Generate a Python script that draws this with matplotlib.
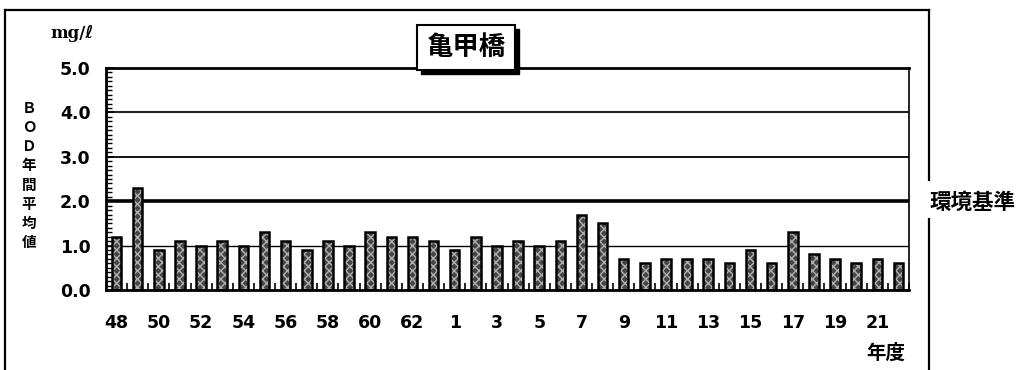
import numpy as np
import matplotlib.pyplot as plt
from matplotlib.patches import Rectangle
from matplotlib.lines import Line2D
from matplotlib.ticker import MultipleLocator, FixedLocator

plt.rcParams['font.family'] = ['DejaVu Sans', 'Noto Sans CJK JP']

# fiscal years: Showa 48-63, Heisei 1-22
years = [str(y) for y in range(48, 64)] + [str(y) for y in range(1, 23)]
bod = [1.2, 2.3, 0.9, 1.1, 1.0, 1.1, 1.0, 1.3, 1.1, 0.9, 1.1, 1.0, 1.3, 1.2, 1.2, 1.1,
       0.9, 1.2, 1.0, 1.1, 1.0, 1.1, 1.7, 1.5, 0.7, 0.6, 0.7, 0.7, 0.7, 0.6, 0.9, 0.6,
       1.3, 0.8, 0.7, 0.6, 0.7, 0.6]
standard = 2.0
y_ticks = [0.0, 1.0, 2.0, 3.0, 4.0, 5.0]

W, H = 1029, 370
fig = plt.figure(figsize=(W / 100, H / 100), dpi=100)

def fx(px):
    return px / W

def fy(py):
    return 1 - py / H

ax = fig.add_axes([fx(106), fy(290), fx(909) - fx(106), fy(68) - fy(290)])
x = np.arange(len(years))

# gridlines (the 2.0 line is the environmental standard)
ax.axhline(1.0, color='black', lw=1.0, zorder=1)
ax.axhline(standard, color='black', lw=2.6, zorder=1)
ax.axhline(3.0, color='black', lw=1.3, zorder=1)
ax.axhline(4.0, color='#222222', lw=1.5, zorder=1)

# stippled bars
ax.bar(x, bod, width=0.45, color='#454545', edgecolor='#b0b0b0', hatch='xxxx', lw=0, zorder=2)
ax.bar(x, bod, width=0.45, fill=False, edgecolor='black', lw=1.8, zorder=3)

ax.set_xlim(-0.5, len(years) - 0.5)
ax.set_ylim(0, 5.0)
ax.set_yticks(y_ticks)
ax.set_yticklabels([f'{v:.1f}' for v in y_ticks], fontsize=12.5, fontweight='bold')
ax.yaxis.set_minor_locator(MultipleLocator(0.1))
ax.tick_params(axis='y', which='major', direction='in', length=6, width=1.2, pad=11)
ax.tick_params(axis='y', which='minor', direction='in', length=4, width=1.0)

ax.set_xticks(x[::2])
ax.set_xticklabels(years[::2], fontsize=12.5, fontweight='bold')
ax.xaxis.set_minor_locator(FixedLocator(np.arange(len(years) + 1) - 0.5))
ax.tick_params(axis='x', which='major', length=0, pad=17)
ax.tick_params(axis='x', which='minor', direction='in', length=5, width=1.2)

for side, lw in [('left', 2.0), ('bottom', 2.0), ('top', 2.0), ('right', 1.2)]:
    ax.spines[side].set_linewidth(lw)

# texts
fig.text(fx(50), fy(33), 'mg/ℓ', fontsize=12, fontweight='bold',
         family=['DejaVu Serif', 'DejaVu Sans'], ha='left', va='center')
fig.text(fx(29), fy(175), '\n'.join('ＢＯＤ年間平均値'), family=['Noto Sans CJK JP'],
         fontsize=10.5, fontweight='bold', ha='center', va='center', linespacing=1.25)
fig.text(fx(886), fy(353), '年度', family=['Noto Sans CJK JP'], fontsize=14,
         fontweight='bold', ha='center', va='center')
fig.text(fx(972), fy(202), '環境基準', family=['Noto Sans CJK JP'], fontsize=15.5,
         fontweight='bold', ha='center', va='center')

# title box with shadow
fig.patches.append(Rectangle((fx(421), fy(74)), fx(515) - fx(417), fy(25) - fy(70),
                             transform=fig.transFigure, facecolor='black', edgecolor='black', zorder=5))
fig.patches.append(Rectangle((fx(417), fy(70)), fx(515) - fx(417), fy(25) - fy(70),
                             transform=fig.transFigure, facecolor='white', edgecolor='black',
                             lw=1.5, zorder=6))
fig.text(fx(466), fy(47), '亀甲橋', family=['Noto Sans CJK JP'], fontsize=19,
         fontweight='bold', ha='center', va='center', zorder=7)

# outer frame, broken around the standard label
frame = [([5, 5], [10, 372]), ([5, 929], [10, 10]),
         ([929, 929], [10, 180]), ([929, 929], [219, 372])]
for xs, ys in frame:
    fig.lines.append(Line2D([fx(v) for v in xs], [fy(v) for v in ys], color='black',
                            lw=1.6, transform=fig.transFigure))

fig.savefig('out.png', dpi=100)
